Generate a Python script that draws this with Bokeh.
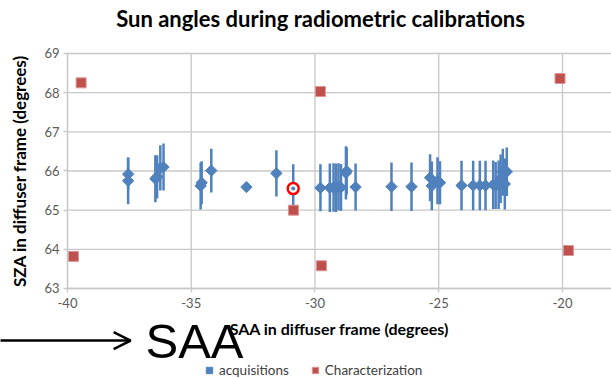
import numpy as np
from bokeh.plotting import figure
from bokeh.models import (Range1d, FixedTicker, Legend, LegendItem, Arrow, OpenHead, Label)
from bokeh.embed import file_html
from bokeh.resources import INLINE

# acquisitions (SAA, SZA, error)
acq_saa = [-37.55, -37.55, -36.45, -36.38, -36.25, -36.12, -34.62, -34.58, -34.19, -32.77,
           -31.56, -30.88, -29.78, -29.40, -29.25, -29.15, -29.05, -28.95, -28.75, -28.72,
           -28.36, -26.91, -26.10, -25.35, -25.28, -25.05, -24.95, -24.08, -23.61, -23.34,
           -23.11, -22.80, -22.70, -22.58, -22.50, -22.41, -22.33, -22.25]
acq_sza = [65.92, 65.75, 65.80, 65.85, 66.08, 66.10, 65.62, 65.70, 66.01, 65.59,
           65.94, 65.55, 65.57, 65.57, 65.58, 65.57, 65.60, 65.58, 65.95, 66.00,
           65.59, 65.60, 65.60, 65.83, 65.62, 65.75, 65.70, 65.63, 65.63, 65.63,
           65.63, 65.65, 65.63, 65.65, 65.80, 65.97, 65.67, 65.98]
acq_err = [0.40, 0.60, 0.60, 0.55, 0.58, 0.60, 0.60, 0.55, 0.56, 0.05,
           0.59, 0.62, 0.60, 0.62, 0.62, 0.62, 0.60, 0.60, 0.68, 0.60,
           0.60, 0.62, 0.62, 0.60, 0.62, 0.60, 0.55, 0.63, 0.63, 0.63,
           0.63, 0.62, 0.60, 0.62, 0.62, 0.60, 0.65, 0.62]

# characterization
char_saa = [-39.45, -39.76, -30.87, -29.78, -29.74, -20.10, -19.76]
char_sza = [68.25, 63.82, 65.00, 68.03, 63.58, 68.36, 63.97]

# highlighted acquisition
hl_saa = [-30.88]
hl_sza = [65.55]

x_ticks = [-40, -35, -30, -25, -20]
y_ticks = [63, 64, 65, 66, 67, 68, 69]
x_labels = ["-40", "-35", "-30", "-25", "-20"]

# axis extents (plot area) and the visible window around it
X_MIN, X_MAX = -40, -18.02
Y_MIN, Y_MAX = 63, 69

BLUE = "#4f81bd"
RED = "#c0504d"
GRID = "#c8c8c8"
FONT = "Lato"

p = figure(width=611, height=378, output_backend="svg", toolbar_location=None,
           x_range=Range1d(-42.707, X_MAX), y_range=Range1d(60.702, 70.353),
           min_border_left=0, min_border_right=0, min_border_top=0, min_border_bottom=0)
p.outline_line_color = None
p.grid.visible = False

for ax in (p.xaxis[0], p.yaxis[0]):
    ax.major_label_text_font = FONT
    ax.major_label_text_font_size = "13px"
    ax.major_label_text_color = "#595959"
    ax.axis_label_text_font = FONT
    ax.axis_label_text_font_style = "bold"
    ax.axis_label_text_color = "#000000"
    ax.axis_line_color = GRID
    ax.axis_line_width = 1.3
    ax.major_tick_line_color = GRID
    ax.major_tick_line_width = 1.3
    ax.major_tick_in = 0
    ax.major_tick_out = 4
    ax.minor_tick_line_color = None

p.xaxis.axis_label_text_font_size = "16px"
p.yaxis.axis_label_text_font_size = "17px"
p.xaxis.fixed_location = Y_MIN
p.yaxis.fixed_location = X_MIN
p.xaxis.bounds = (X_MIN, X_MAX)
p.yaxis.bounds = (Y_MIN, Y_MAX)
p.xaxis.ticker = FixedTicker(ticks=x_ticks)
p.yaxis.ticker = FixedTicker(ticks=y_ticks)
p.xaxis.major_label_overrides = dict(zip(x_ticks, x_labels))
p.xaxis.axis_label = "SAA in diffuser frame (degrees)"
p.yaxis.axis_label = "SZA in diffuser frame (degrees)"
p.xaxis.major_label_standoff = 6
p.yaxis.major_label_standoff = 4
p.xaxis.axis_label_standoff = 7
p.yaxis.axis_label_standoff = 11

# gridlines of the plot area, from the tick values
p.segment(x0=x_ticks, y0=[Y_MIN] * len(x_ticks), x1=x_ticks, y1=[Y_MAX] * len(x_ticks),
          line_color=GRID, line_width=1.3)
p.segment(x0=[X_MIN] * len(y_ticks), y0=y_ticks, x1=[X_MAX] * len(y_ticks), y1=y_ticks,
          line_color=GRID, line_width=1.3)

saa = np.array(acq_saa)
sza = np.array(acq_sza)
err = np.array(acq_err)

p.segment(x0=saa, y0=sza - err, x1=saa, y1=sza + err, line_color=BLUE, line_width=2.5)
r_acq = p.scatter(saa, sza, marker="square", angle=np.pi / 4, size=8, fill_color=BLUE, line_color=BLUE)
r_char = p.scatter(char_saa, char_sza, marker="square", size=10, fill_color=RED, line_color="#d99694",
                   line_width=1)
p.scatter(hl_saa, hl_sza, marker="circle", size=11, fill_color="white", line_color="#ff0000", line_width=2.5)
p.scatter(hl_saa, hl_sza, marker="circle", size=4, fill_color=BLUE, line_color=None)

legend = Legend(items=[LegendItem(label="acquisitions", renderers=[r_acq]),
                       LegendItem(label="Characterization", renderers=[r_char])],
                orientation="horizontal", border_line_color=None, background_fill_alpha=0,
                label_text_font=FONT, label_text_font_size="13.5px", label_text_color="#404040",
                glyph_width=16, glyph_height=16, spacing=18, padding=0, margin=0,
                label_standoff=2, location=(201, 0))
p.add_layout(legend)

title = Label(x=320, y=360, x_units="screen", y_units="screen",
              text="Sun angles during radiometric calibrations", text_font=FONT,
              text_font_style="bold", text_font_size="22px", text_align="center",
              text_baseline="middle", text_color="black")
p.add_layout(title)

arrow = Arrow(end=OpenHead(size=17, line_width=2.5, line_color="black"),
              x_start=-42.75, y_start=61.672, x_end=-37.45, y_end=61.672,
              line_width=2.5, line_color="black")
p.add_layout(arrow)
saa_label = Label(x=-36.85, y=61.647, text="SAA", text_font="Liberation Sans",
                  text_font_size="49px", text_baseline="alphabetic", text_color="black")
p.add_layout(saa_label)

open("out.html", "w").write(file_html(p, INLINE))
